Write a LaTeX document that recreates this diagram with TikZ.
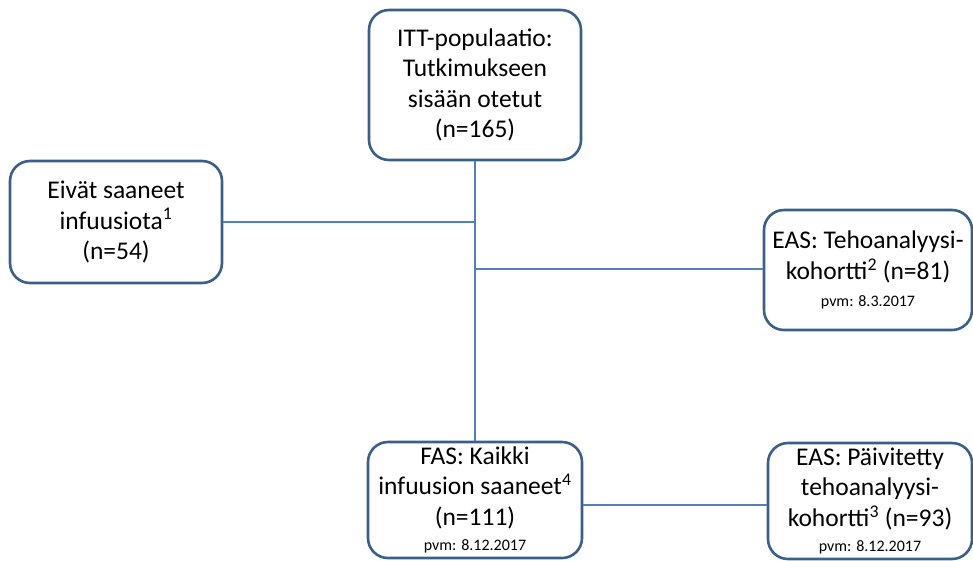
\documentclass[tikz,border=0pt]{standalone}
\usepackage{fontspec}
\setmainfont{Carlito}
\definecolor{boxline}{HTML}{3A5F8B}
\definecolor{conn}{HTML}{4F81BD}
\newcommand{\pvmfont}{\fontsize{16}{20}\selectfont}
\begin{document}
\begin{tikzpicture}[x=1pt,y=-1pt,
  box/.style={draw=boxline,line width=2.6pt,rounded corners=20pt,fill=white,align=center,
    font=\fontsize{25.5}{30.5}\selectfont,inner sep=0pt},
  conline/.style={draw=conn,line width=1.3pt}]
\useasboundingbox (0,0) rectangle (973,560);
\node[box,minimum width=212pt,minimum height=150pt] (itt) at (475,85)
  {ITT-populaatio:\\Tutkimukseen\\sisään otetut\\(n=165)};
\node[box,minimum width=212pt,minimum height=122pt] (ei) at (116,222)
  {Eivät saaneet\\infuusiota\textsuperscript{1}\\(n=54)};
\node[box,minimum width=208pt,minimum height=120pt] (eas) at (868,270)
  {EAS: Tehoanalyysi-\\kohortti\textsuperscript{2} (n=81)\\[-3pt]{\pvmfont pvm: 8.3.2017}};
\node[box,minimum width=214pt,minimum height=116pt] (fas) at (475,500)
  {FAS: Kaikki\\infuusion saaneet\textsuperscript{4}\\(n=111)\\[-5pt]{\pvmfont pvm: 8.12.2017}};
\node[box,minimum width=204pt,minimum height=116pt] (upd) at (870,501)
  {EAS: Päivitetty\\tehoanalyysi-\\kohortti\textsuperscript{3} (n=93)\\[-5pt]{\pvmfont pvm: 8.12.2017}};
\draw[conline] (itt.south) -- (fas.north);
\draw[conline] (ei.east) -- (ei.east -| itt.south);
\coordinate (j) at (475,269);
\draw[conline] (j) -- (j -| eas.west);
\draw[conline] (fas.east |- 0,505) -- (upd.west |- 0,505);
\end{tikzpicture}
\end{document}
